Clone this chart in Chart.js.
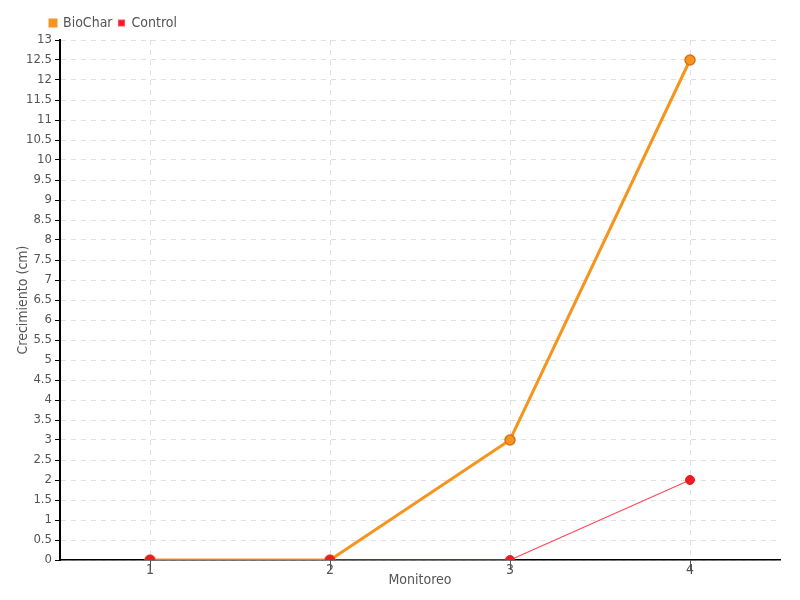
<!DOCTYPE html>
<html>
<head>
<meta charset="utf-8">
<script src="https://cdn.jsdelivr.net/npm/chart.js@4/dist/chart.umd.min.js"></script>
<style>
  html, body { margin: 0; padding: 0; background: #fff; }
  #wrap { width: 800px; height: 600px; }
</style>
</head>
<body>
<div id="wrap"><canvas id="grafico"></canvas></div>
<script>
const monitoreos = ['1', '2', '3', '4'];
const biochar = [0, 0, 3, 12.5];
const control = [0, 0, 0, 2];

const fuente = '"DejaVu Sans Condensed", "Liberation Sans Narrow", sans-serif';
Chart.defaults.font.family = fuente;
Chart.defaults.font.size = 14;
Chart.defaults.color = '#555';

// corre la leyenda para alinearla cerca del eje
const moverLeyenda = {
  id: 'moverLeyenda',
  afterLayout(chart) { if (chart.legend) chart.legend.left = 44; }
};

new Chart(document.getElementById('grafico'), {
  type: 'line',
  data: {
    labels: monitoreos,
    datasets: [
      {
        label: 'BioChar', data: biochar, order: 1,
        borderColor: '#f7941d', backgroundColor: '#f7941d', borderWidth: 3,
        pointRadius: 5, pointBorderColor: '#d9701a', pointBackgroundColor: '#f7941d', pointBorderWidth: 1.5
      },
      {
        label: 'Control', data: control, order: 0,
        borderColor: '#ff4d5e', backgroundColor: '#ed1c24', borderWidth: 1.2,
        pointRadius: 4.5, pointBorderColor: '#e0202c', pointBackgroundColor: '#ed1c24', pointBorderWidth: 1
      }
    ]
  },
  options: {
    responsive: true,
    maintainAspectRatio: false,
    animation: false,
    layout: { padding: { top: 10, right: 20, left: 0, bottom: 0 } },
    plugins: {
      tooltip: { enabled: false },
      legend: {
        position: 'top', align: 'start',
        labels: {
          boxWidth: 6, boxHeight: 6, padding: 6, color: '#555',
          font: { size: 14, family: fuente },
          sort: (a, b) => a.datasetIndex - b.datasetIndex
        }
      }
    },
    scales: {
      x: {
        offset: true,
        border: { color: '#000', width: 1.5, dash: [5, 5] },
        grid: { offset: false, color: '#e0e0e0', tickColor: '#555', tickBorderDash: [], tickLength: 10 },
        ticks: { color: '#555', padding: -8 },
        title: { display: true, text: 'Monitoreo', color: '#555', padding: { top: 0, bottom: 11 } },
        afterFit: (s) => { s.height = 40; }
      },
      y: {
        min: 0, max: 13,
        border: { color: '#000', width: 2, dash: [5, 5] },
        grid: { color: '#e0e0e0', tickColor: '#000', tickBorderDash: [], tickLength: 5 },
        ticks: {
          stepSize: 0.5, color: '#555', padding: 3, autoSkip: false,
          font: { size: 13, family: fuente },
          callback: (v) => String(Math.round(v * 10) / 10)
        },
        title: { display: true, text: 'Crecimiento (cm)', color: '#555', padding: { top: 15, bottom: 0 } },
        afterFit: (s) => { s.width = 60; }
      }
    }
  },
  plugins: [moverLeyenda]
});
</script>
</body>
</html>
